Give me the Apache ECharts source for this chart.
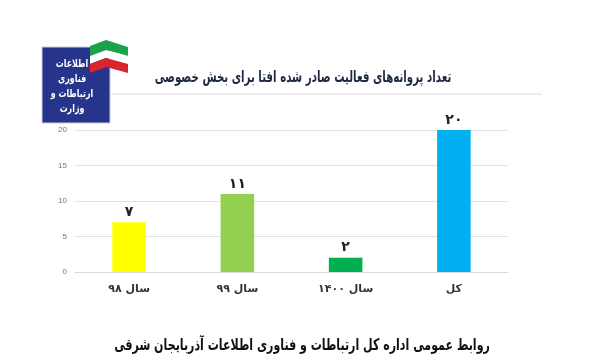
<!DOCTYPE html>
<html>
<head>
<meta charset="utf-8">
<script src="https://cdn.jsdelivr.net/npm/echarts@6/dist/echarts.min.js"></script>
<style>
  html, body { margin: 0; padding: 0; background: #fff; }
  #chart { width: 600px; height: 360px; }
</style>
</head>
<body>
<div id="chart"></div>
<script>
// chart data
const categories = ['سال ۹۸', 'سال ۹۹', 'سال ۱۴۰۰', 'کل']
const values = [7, 11, 2, 20]
const barColors = ['#FFFF00', '#92D050', '#00B050', '#00B0F0']
const yTicks = [0, 5, 10, 15, 20]

const titleText = 'تعداد پروانه‌های فعالیت صادر شده افتا برای بخش خصوصی'
const footerText = 'روابط عمومی اداره کل ارتباطات و فناوری اطلاعات آذربایجان شرقی'
const logoLines = ['اطلاعات', 'فناوری', 'ارتباطات و', 'وزارت']

const faDigits = '۰۱۲۳۴۵۶۷۸۹'
function toFa(n) {
  return String(n).replace(/\d/g, d => faDigits[d])
}

const chart = echarts.init(document.getElementById('chart'))

const option = {
  backgroundColor: '#fff',
  animation: false,
  textStyle: { fontFamily: 'DejaVu Sans' },
  grid: { left: 75, right: 92, top: 130, bottom: 88, containLabel: false },
  xAxis: {
    type: 'category',
    data: categories,
    axisTick: { show: false },
    axisLine: { lineStyle: { color: '#d9d9d9' } },
    axisLabel: { color: '#333', fontSize: 11, fontWeight: 'bold', margin: 12 }
  },
  yAxis: {
    type: 'value',
    min: yTicks[0],
    max: yTicks[yTicks.length - 1],
    interval: 5,
    axisLine: { show: false },
    axisTick: { show: false },
    splitLine: { lineStyle: { color: '#e3e3e3' } },
    axisLabel: { color: '#777', fontSize: 8, margin: 8, fontFamily: 'Liberation Sans' }
  },
  series: [{
    type: 'bar',
    barWidth: '31%',
    data: values.map((v, i) => ({ value: v, itemStyle: { color: barColors[i] } })),
    label: {
      show: true,
      position: 'top',
      distance: 3,
      color: '#222',
      fontSize: 14,
      fontWeight: 'bold',
      formatter: p => toFa(p.value)
    }
  }],
  graphic: [
    // title and its underline
    {
      type: 'text', x: 303, y: 78, scaleX: 0.64,
      style: { text: titleText, fill: '#1f2a44', font: 'bold 16px "DejaVu Sans"', align: 'center', verticalAlign: 'middle' }
    },
    {
      type: 'line', shape: { x1: 110, y1: 94, x2: 542, y2: 94 },
      style: { stroke: '#eeeeee', lineWidth: 2 }
    },
    // ministry logo
    {
      type: 'rect', shape: { x: 42, y: 47, width: 68, height: 76 },
      style: { fill: '#27348b', stroke: '#c9cce0', lineWidth: 1 }
    },
    ...logoLines.map((t, i) => ({
      type: 'text', x: 72, y: 64 + i * 15, scaleX: 0.72,
      style: { text: t, fill: '#fff', font: 'bold 11px "DejaVu Sans"', align: 'center', verticalAlign: 'middle' }
    })),
    {
      type: 'polygon', shape: { points: [[90, 46], [106, 40], [128, 47], [128, 56], [106, 50], [90, 56]] },
      style: { fill: '#1aa34a' }
    },
    {
      type: 'polygon', shape: { points: [[90, 56], [106, 50], [128, 56], [128, 64], [106, 58], [90, 64]] },
      style: { fill: '#ffffff' }
    },
    {
      type: 'polygon', shape: { points: [[90, 64], [106, 58], [128, 64], [128, 73], [106, 67], [90, 73]] },
      style: { fill: '#d7262e' }
    },
    // footer credit
    {
      type: 'text', x: 302, y: 346, scaleX: 0.69,
      style: { text: footerText, fill: '#111', font: 'bold 16px "DejaVu Sans"', align: 'center', verticalAlign: 'middle' }
    }
  ]
}

chart.setOption(option)
</script>
</body>
</html>
